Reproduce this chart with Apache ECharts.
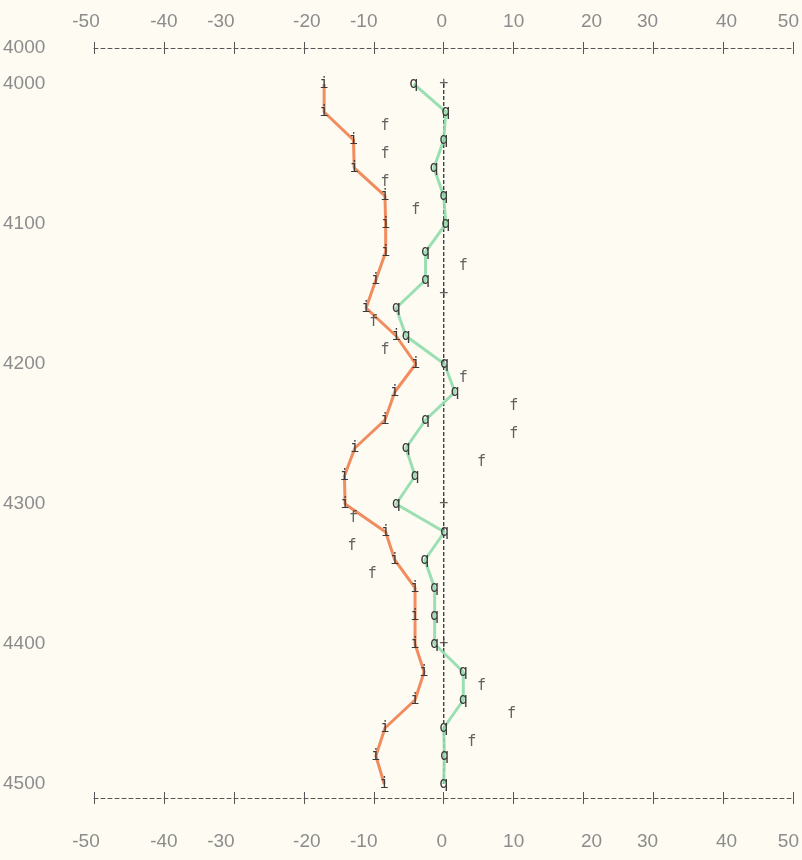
<!DOCTYPE html>
<html><head><meta charset="utf-8">
<script src="https://cdn.jsdelivr.net/npm/echarts@6/dist/echarts.min.js"></script>
<style>html,body{margin:0;padding:0;background:#fdfbf2}#c{width:802px;height:860px}</style>
</head><body><div id="c"></div>
<script>
// ---- data ----
const depths = [4000,4020,4040,4060,4080,4100,4120,4140,4160,4180,4200,4220,4240,4260,4280,4300,4320,4340,4360,4380,4400,4420,4440,4460,4480,4500];
const seriesI = [-17.1,-17.1,-12.9,-12.8,-8.4,-8.3,-8.3,-9.7,-11.1,-6.8,-4.0,-7.0,-8.4,-12.7,-14.2,-14.1,-8.3,-7.0,-4.1,-4.1,-4.1,-2.8,-4.1,-8.4,-9.7,-8.5];
const seriesQ = [-4.3,0.3,0.0,-1.4,0.0,0.3,-2.6,-2.6,-6.8,-5.4,0.1,1.6,-2.6,-5.4,-4.1,-6.8,0.1,-2.7,-1.3,-1.3,-1.3,2.8,2.8,0.0,0.1,0.0];
const fDepths = [4030,4050,4070,4090,4130,4170,4190,4210,4230,4250,4270,4310,4330,4350,4430,4450,4470];
const fValues = [-8.4,-8.4,-8.4,-4.0,2.8,-10.0,-8.4,2.8,10.0,10.0,5.4,-12.9,-13.1,-10.2,5.4,9.7,4.0];
const zeroLineDepths = [4000,4500];
const zeroMarkDepths = [4000,4150,4300,4400];
const xTickLabels = ['-50','-40','-30','-20','-10','0','10','20','30','40','50'];
const yTickValues = [3974.3,4000,4100,4200,4300,4400,4500];
const yTickLabels = ['4000','4000','4100','4200','4300','4400','4500'];

// ---- style ----
const xLabelShift = [-8,0,-13,3,-10,-2,0,8,-6,3,-5];
const labelFont = "'Liberation Sans',sans-serif";
const glyphFont = "'DejaVu Sans Mono','Liberation Mono',monospace";
const tickColor = '#8c8c8c';
const rich = {};
xLabelShift.forEach((s,i)=>{
  rich['s'+i] = {fontFamily: labelFont, fontSize: 19, color: tickColor,
    padding: s < 0 ? [0, -2*s, 0, 0] : [0, 0, 0, 2*s]};
});
function xFmt(v){
  const i = Math.round((v + 50) / 10);
  return '{s' + i + '|' + xTickLabels[i] + '}';
}
function yFmt(v){
  let k = 0, best = 1e9;
  yTickValues.forEach((t,i)=>{ if (Math.abs(t-v) < best){best=Math.abs(t-v);k=i;} });
  return yTickLabels[k];
}
const axisLineStyle = {color:'#555', width:1, type:[4,3]};
function xAxis(pos, labels, inside){
  return {type:'value', position:pos, min:-50, max:50, interval:10,
    axisLine:{show:!inside, onZero:false, lineStyle:axisLineStyle},
    axisTick:{show:true, inside:inside, length:6, lineStyle:{color:'#555', width:1}},
    axisLabel:{show:labels, formatter:xFmt, rich:rich, margin: pos==='top'?17:34},
    splitLine:{show:false}};
}
function glyphLabel(ch){
  return {show:true, position:'inside', formatter:ch, fontFamily:glyphFont, fontSize:15, color:'#3a3a3a'};
}
const chart = echarts.init(document.getElementById('c'));
chart.setOption({
  backgroundColor:'#fdfbf2',
  animation:false,
  grid:{left:92, right:5, top:48, bottom:62},
  xAxis:[xAxis('top',true,false), xAxis('bottom',true,false), xAxis('top',false,true), xAxis('bottom',false,true)],
  yAxis:{type:'value', inverse:true, min:3974.3, max:4510,
    axisLine:{show:false}, axisTick:{show:false}, splitLine:{show:false},
    axisLabel:{customValues:yTickValues, formatter:yFmt, align:'left', margin:91,
      fontFamily:labelFont, fontSize:19, color:tickColor}},
  series:[
    {type:'line', silent:true, data:zeroLineDepths.map(d=>[0,d]), symbol:'none',
      lineStyle:{color:'#333', width:1.3, type:[4,2]}, z:1},
    {type:'line', silent:true, data:depths.map((d,i)=>[seriesI[i],d]), symbol:'circle', symbolSize:1,
      itemStyle:{color:'rgba(0,0,0,0)'}, lineStyle:{color:'#f0804f', width:3, opacity:0.9},
      label:glyphLabel('i'), z:2},
    {type:'line', silent:true, data:depths.map((d,i)=>[seriesQ[i],d]), symbol:'circle', symbolSize:1,
      itemStyle:{color:'rgba(0,0,0,0)'}, lineStyle:{color:'#8fdcab', width:3, opacity:0.9},
      label:glyphLabel('q'), z:2},
    {type:'scatter', silent:true, data:fDepths.map((d,i)=>[fValues[i],d]), symbolSize:1,
      itemStyle:{color:'rgba(0,0,0,0)'}, label:glyphLabel('f'), z:3},
    {type:'scatter', silent:true, data:zeroMarkDepths.map(d=>[0,d]), symbolSize:1,
      itemStyle:{color:'rgba(0,0,0,0)'}, label:glyphLabel('+'), z:3}
  ]
});
</script></body></html>
